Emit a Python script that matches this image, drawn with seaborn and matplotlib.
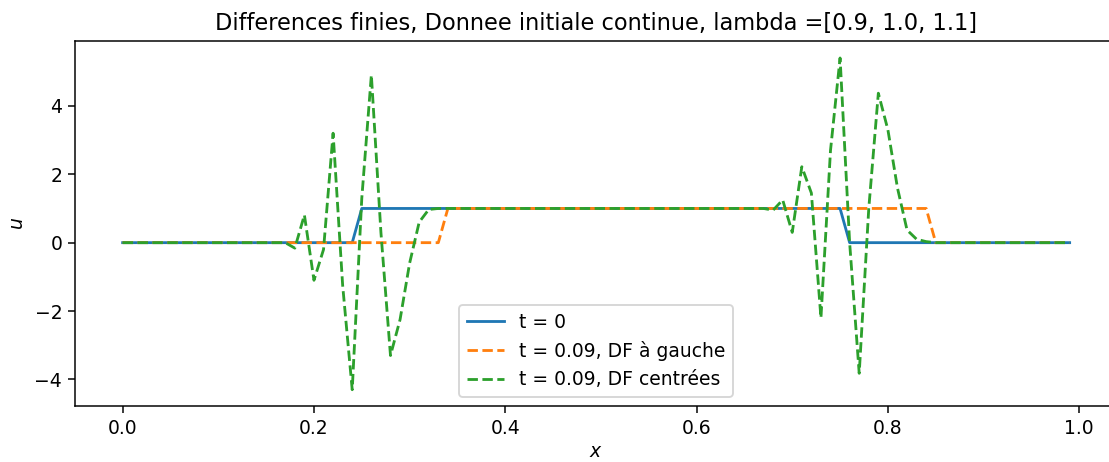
import numpy as np
import matplotlib
matplotlib.use("Agg")
import matplotlib.pyplot as plt
import seaborn as sns

# Spatial grid
x = np.round(np.arange(0, 100) * 0.01, 2)

# Initial datum (t = 0)
u_init = [0.0] * 25 + [1.0] * 51 + [0.0] * 24

# Upwind (left) finite differences at t = 0.09
u_left = [0.0] * 34 + [1.0] * 51 + [0.0] * 15

# Centred finite differences at t = 0.09
left_wave = [-0.16, 0.81, -1.10, -0.20, 3.20, -1.25, -4.30, 1.30,
             4.90, 0.30, -3.30, -2.25, -0.60, 0.60, 0.97, 1.00]
right_wave = [0.95, 1.25, 0.30, 2.22, 1.45, -2.20, 2.70, 5.40,
              0.00, -3.82, 1.00, 4.37, 3.30, 1.60, 0.37, 0.10, 0.03]
u_centre = [0.0] * 18 + left_wave + [1.0] * 34 + right_wave + [0.0] * 15

labels = ["t = 0", "t = 0.09, DF à gauche", "t = 0.09, DF centrées"]
title = "Differences finies, Donnee initiale continue, lambda =[0.9, 1.0, 1.1]"

W, H, DPI = 1109, 462, 135
fig = plt.figure(figsize=(W / DPI, H / DPI), dpi=DPI)
ax = fig.add_axes([75.3 / W, 1 - 406.3 / H, (1117 - 75.3) / W, (406.3 - 41.4) / H])

palette = sns.color_palette("tab10")
sns.lineplot(x=x, y=u_init, ax=ax, color=palette[0], label=labels[0], linewidth=1.5)
sns.lineplot(x=x, y=u_left, ax=ax, color=palette[1], label=labels[1], linewidth=1.5, linestyle="--")
sns.lineplot(x=x, y=u_centre, ax=ax, color=palette[2], label=labels[2], linewidth=1.5, linestyle="--")

ax.set_xlabel("$x$", labelpad=2)
ax.set_ylabel("$u$")
ax.set_title(title)
ax.set_xticks([0.0, 0.2, 0.4, 0.6, 0.8, 1.0])
ax.set_yticks([-4, -2, 0, 2, 4])
ax.legend(loc="lower center")

fig.savefig("out.png", dpi=DPI)
